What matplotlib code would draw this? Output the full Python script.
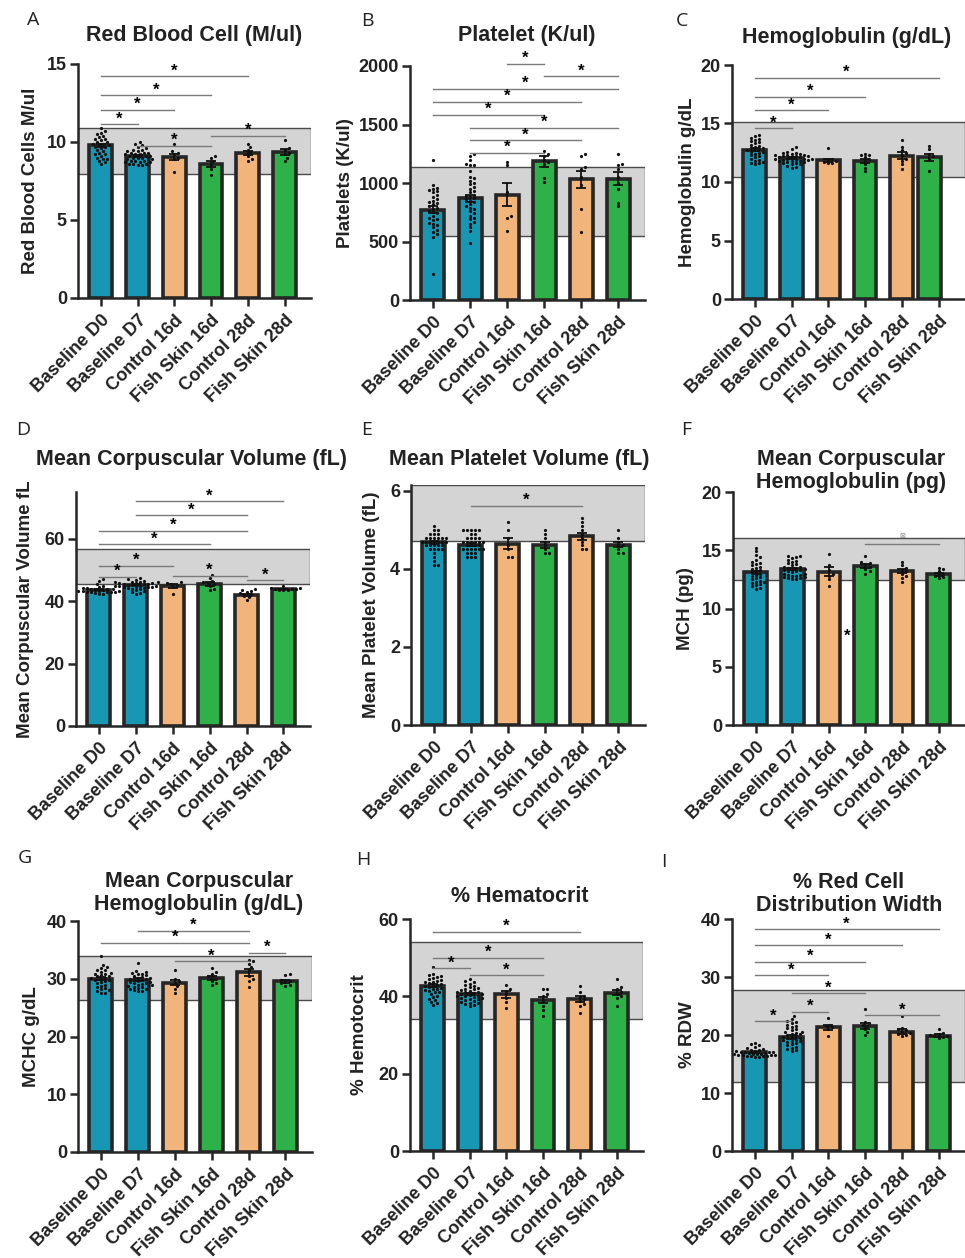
import numpy as np
import matplotlib
matplotlib.use('Agg')
import matplotlib.pyplot as plt

W, H = 965, 1258
plt.rcParams['font.family'] = ['Liberation Sans', 'DejaVu Sans']

categories = ['Baseline D0', 'Baseline D7', 'Control 16d', 'Fish Skin 16d', 'Control 28d', 'Fish Skin 28d']
bar_colors = ['#1797b3', '#1797b3', '#f1b57b', '#2fb14a', '#f1b57b', '#2fb14a']

# ---------------- A: Red blood cells ----------------
rbc_mean = [9.8, 9.1, 9.05, 8.6, 9.3, 9.35]
rbc_sem = [0.1, 0.07, 0.2, 0.18, 0.15, 0.17]
rbc_points = [
    [10.9, 10.7, 10.6, 10.5, 10.4, 10.3, 10.2, 10.2, 10.1, 10.0, 10.0, 9.9, 9.9, 9.8, 9.8,
     9.7, 9.7, 9.6, 9.5, 9.4, 9.3, 9.2, 9.2, 9.1, 9.0, 8.9, 8.9, 8.8, 8.7, 8.6],
    [10.0, 9.9, 9.8, 9.7, 9.6, 9.5, 9.5, 9.4, 9.4, 9.3, 9.3, 9.3, 9.2, 9.2, 9.2, 9.1, 9.1,
     9.1, 9.0, 9.0, 9.0, 8.9, 8.9, 8.9, 8.8, 8.8, 8.8, 8.7, 8.7, 8.6, 8.6, 8.5, 8.5, 8.6, 8.7],
    [9.9, 9.4, 9.3, 9.2, 9.0, 8.9, 8.1],
    [9.1, 9.0, 8.8, 8.6, 8.3, 7.9],
    [9.9, 9.7, 9.5, 9.3, 9.1, 8.9, 8.8],
    [10.1, 9.6, 9.5, 9.3, 9.2, 9.0, 8.8],
]
rbc_band = (7.95, 10.9)
rbc_sig = [(0, 4, 14.2, '*'), (0, 3, 13.0, '*'), (0, 2, 12.06, '*'), (0, 1, 11.14, '*'),
           (3, 5, 10.4, '*'), (1, 3, 9.77, '*')]

# ---------------- B: Platelets ----------------
plt_mean = [770, 870, 900, 1185, 1030, 1035]
plt_sem = [30, 30, 100, 45, 70, 55]
plt_points = [
    [1200, 980, 960, 950, 940, 930, 920, 900, 880, 860, 850, 840, 830, 820, 800, 790, 780,
     760, 750, 740, 720, 700, 690, 680, 660, 650, 640, 620, 600, 580, 560, 540, 220],
    [1250, 1230, 1200, 1160, 1150, 1150, 1100, 1050, 1040, 1020, 1000, 990, 970, 950, 930,
     920, 900, 890, 880, 870, 860, 850, 840, 820, 800, 790, 780, 760, 740, 720, 700, 690,
     670, 650, 620, 590, 490],
    [1180, 1150, 920, 720, 700, 590],
    [1270, 1250, 1230, 1200, 1180, 1160, 1040, 1010],
    [1250, 1230, 1140, 1120, 1050, 980, 780, 580],
    [1250, 1160, 1150, 1120, 1050, 1000, 950, 830, 800],
]
plt_band = (546, 1140)
plt_sig = [(2, 3, 2020, '*'), (3, 5, 1912, '*'), (0, 5, 1804, '*'), (0, 4, 1693, '*'),
           (0, 3, 1585, '*'), (1, 5, 1471, '*'), (1, 4, 1366, '*'), (1, 3, 1258, '*')]

# ---------------- C: Hemoglobin ----------------
hgb_mean = [12.75, 12.05, 11.85, 11.8, 12.25, 12.1]
hgb_sem = [0.12, 0.07, 0.15, 0.17, 0.28, 0.3]
hgb_points = [
    [14.0, 13.9, 13.8, 13.7, 13.6, 13.5, 13.4, 13.3, 13.2, 13.1, 13.0, 12.9, 12.9, 12.8, 12.7,
     12.7, 12.6, 12.5, 12.4, 12.3, 12.2, 12.1, 12.0, 11.9, 11.8, 11.7, 11.6, 11.6, 11.5, 12.6],
    [13.0, 12.8, 12.6, 12.5, 12.5, 12.4, 12.4, 12.3, 12.3, 12.2, 12.2, 12.2, 12.1, 12.1, 12.1,
     12.0, 12.0, 12.0, 11.9, 11.9, 11.9, 11.8, 11.8, 11.8, 11.7, 11.7, 11.6, 11.6, 11.5, 11.5,
     11.4, 11.3, 11.2, 12.0, 12.3],
    [12.9, 12.0, 11.9, 11.8, 11.7, 11.6, 11.6],
    [12.4, 12.3, 12.3, 12.1, 12.0, 11.8, 11.5, 11.2, 10.9],
    [13.6, 13.0, 12.7, 12.5, 12.3, 12.0, 11.8, 11.5, 11.1],
    [13.1, 12.8, 12.4, 12.2, 12.0, 10.9],
]
hgb_band = (10.47, 15.1)
hgb_sig = [(0, 5, 18.9, '*'), (0, 3, 17.3, '*'), (0, 2, 16.13, '*'), (0, 1, 14.6, '*')]

# ---------------- D: MCV ----------------
mcv_mean = [43.7, 45.3, 44.8, 45.5, 42.1, 43.9]
mcv_sem = [0.2, 0.2, 0.6, 0.5, 0.35, 0.15]
mcv_points = [
    [47.0, 46.5, 45.5, 45.0, 44.5, 44.3, 44.2, 44.0, 44.0, 43.9, 43.8, 43.8, 43.7, 43.7, 43.6,
     43.6, 43.5, 43.5, 43.4, 43.4, 43.3, 43.2, 43.1, 43.0, 43.0, 42.9, 42.8, 42.6, 42.4, 42.2],
    [47.3, 47.0, 46.8, 46.5, 46.3, 46.2, 46.0, 46.0, 45.9, 45.8, 45.7, 45.6, 45.5, 45.5, 45.4,
     45.3, 45.2, 45.1, 45.0, 45.0, 44.9, 44.8, 44.7, 44.6, 44.5, 44.4, 44.3, 44.2, 44.0, 43.8,
     43.5, 43.2, 42.8, 42.5, 42.2],
    [46.0, 45.8, 45.5, 45.2, 44.5, 42.3],
    [48.5, 47.5, 46.5, 46.0, 45.8, 45.5, 44.8, 44.0, 43.5],
    [43.9, 43.6, 43.4, 42.9, 42.5, 42.2, 41.8, 41.2, 40.3],
    [44.8, 44.3, 44.1, 44.0, 43.9, 43.8, 43.7, 43.6, 43.5],
]
mcv_band = (45.5, 56.6)
mcv_sig = [(1, 5, 72.1, '*'), (1, 4, 67.5, '*'), (0, 4, 62.6, '*'), (0, 3, 58.2, '*'),
           (0, 2, 51.4, '*'), (2, 4, 48.2, '*'), (0, 1, 47.9, '*'), (4, 5, 46.7, '*')]

# ---------------- E: MPV ----------------
mpv_mean = [4.68, 4.62, 4.65, 4.62, 4.84, 4.62]
mpv_sem = [0.04, 0.04, 0.15, 0.08, 0.09, 0.07]
mpv_points = [
    [5.1, 5.0, 5.0, 4.9, 4.9, 4.9, 4.8, 4.8, 4.8, 4.8, 4.8, 4.8, 4.7, 4.7, 4.7, 4.7, 4.7, 4.7,
     4.7, 4.6, 4.6, 4.6, 4.6, 4.6, 4.5, 4.5, 4.5, 4.5, 4.4, 4.3, 4.2, 4.1, 4.1],
    [5.0, 5.0, 5.0, 5.0, 5.0, 4.9, 4.9, 4.8, 4.8, 4.8, 4.8, 4.7, 4.7, 4.7, 4.7, 4.7, 4.7, 4.6,
     4.6, 4.6, 4.6, 4.5, 4.5, 4.5, 4.5, 4.5, 4.5, 4.4, 4.4, 4.4, 4.3, 4.3, 4.3],
    [5.2, 5.0, 4.8, 4.6, 4.5, 4.3, 4.3],
    [5.0, 4.9, 4.8, 4.7, 4.6, 4.5, 4.4, 4.4],
    [5.3, 5.2, 5.1, 5.0, 4.9, 4.8, 4.7, 4.6, 4.5, 4.5],
    [5.0, 4.8, 4.7, 4.6, 4.6, 4.5, 4.4, 4.4],
]
mpv_band = (4.72, 6.15)
mpv_sig = [(1, 4, 5.62, '*')]

# ---------------- F: MCH ----------------
mch_mean = [13.1, 13.4, 13.15, 13.66, 13.2, 12.95]
mch_sem = [0.15, 0.1, 0.4, 0.18, 0.18, 0.12]
mch_points = [
    [15.2, 14.9, 14.6, 14.4, 14.2, 14.0, 13.9, 13.8, 13.7, 13.6, 13.5, 13.4, 13.3, 13.2, 13.1,
     13.0, 12.9, 12.8, 12.7, 12.6, 12.5, 12.4, 12.3, 12.2, 12.1, 12.0, 11.9, 11.8, 11.7, 12.3],
    [14.5, 14.5, 14.4, 14.3, 14.2, 14.1, 14.0, 13.9, 13.8, 13.7, 13.6, 13.6, 13.5, 13.5, 13.4,
     13.4, 13.3, 13.3, 13.2, 13.2, 13.1, 13.0, 13.0, 12.9, 12.9, 12.8, 12.8, 12.7, 12.7, 12.6,
     12.6, 12.5, 12.5],
    [14.7, 13.7, 13.3, 13.0, 12.8, 12.5, 11.9],
    [14.5, 14.0, 13.9, 13.8, 13.6, 13.4, 13.2, 13.0],
    [14.0, 13.7, 13.5, 13.3, 13.2, 13.0, 12.8, 12.6, 12.3],
    [13.5, 13.4, 13.2, 13.0, 12.9, 12.8, 12.7, 12.6],
]
mch_band = (12.43, 16.06)
mch_sig = [(3, 5, 15.5, '\u22a0')]
mch_stray_star = (2.5, 7.6)

# ---------------- G: MCHC ----------------
mchc_mean = [30.0, 29.85, 29.35, 30.15, 31.1, 29.6]
mchc_sem = [0.25, 0.2, 0.5, 0.3, 0.6, 0.25]
mchc_points = [
    [34.0, 32.3, 32.0, 31.8, 31.5, 31.2, 31.0, 30.8, 30.6, 30.4, 30.2, 30.0, 29.8, 29.6, 29.4,
     29.2, 29.0, 28.8, 28.6, 28.4, 28.2, 28.0, 27.8, 27.6, 27.5, 30.5, 30.9, 29.7, 31.6, 30.1],
    [32.8, 31.3, 31.2, 31.0, 30.9, 30.8, 30.6, 30.5, 30.3, 30.2, 30.1, 30.0, 29.9, 29.8, 29.7,
     29.6, 29.5, 29.4, 29.3, 29.2, 29.1, 29.0, 28.9, 28.8, 28.7, 28.6, 28.5, 28.4, 28.3, 28.2,
     28.0, 27.9, 27.8],
    [31.5, 30.0, 29.6, 29.3, 28.8, 28.3, 27.5],
    [31.8, 31.2, 30.8, 30.5, 30.2, 30.0, 29.6, 29.3, 29.0],
    [33.2, 33.0, 32.6, 32.0, 31.5, 30.5, 30.0, 29.6, 28.5],
    [30.8, 30.7, 29.8, 29.6, 29.4, 29.2, 29.0, 28.8],
]
mchc_band = (26.3, 33.9)
mchc_sig = [(1, 4, 38.3, '*'), (0, 4, 36.26, '*'), (4, 5, 34.5, '*'), (2, 4, 33.0, '*')]

# ---------------- H: Hematocrit ----------------
hct_mean = [42.7, 40.6, 40.5, 39.05, 39.3, 40.95]
hct_sem = [0.4, 0.3, 1.0, 0.85, 0.75, 0.7]
hct_points = [
    [47.5, 45.8, 45.5, 45.2, 45.0, 44.8, 44.5, 44.2, 44.0, 43.8, 43.6, 43.4, 43.2, 43.0, 42.8,
     42.6, 42.4, 42.2, 42.0, 41.8, 41.6, 41.4, 41.2, 41.0, 40.6, 40.2, 39.8, 39.4, 39.0, 38.6,
     38.2, 37.8],
    [44.5, 44.0, 43.6, 43.3, 43.0, 42.7, 42.4, 42.2, 42.0, 41.8, 41.6, 41.4, 41.2, 41.0, 40.8,
     40.6, 40.4, 40.2, 40.0, 39.8, 39.6, 39.4, 39.2, 39.0, 38.8, 38.6, 38.4, 38.2, 38.0, 37.8,
     37.5, 40.5, 41.0, 39.5, 40.0],
    [43.0, 42.0, 41.5, 40.5, 39.5, 38.5, 37.0],
    [42.0, 42.0, 40.5, 40.0, 39.0, 37.5, 36.5, 35.0],
    [42.8, 41.0, 40.2, 39.8, 39.2, 38.8, 38.0, 37.5, 35.8],
    [44.5, 42.5, 41.8, 41.0, 40.5, 40.0, 39.5, 37.5],
]
hct_band = (34.05, 54.1)
hct_sig = [(0, 4, 56.7, '*'), (0, 3, 50.0, '*'), (0, 1, 47.3, '*'), (1, 3, 45.5, '*')]

# ---------------- I: RDW ----------------
rdw_mean = [17.0, 19.65, 21.3, 21.6, 20.6, 19.9]
rdw_sem = [0.12, 0.3, 0.5, 0.5, 0.35, 0.2]
rdw_points = [
    [18.7, 18.4, 18.2, 18.0, 17.8, 17.6, 17.5, 17.4, 17.3, 17.2, 17.1, 17.0, 17.0, 16.9, 16.9,
     16.8, 16.8, 16.7, 16.7, 16.6, 16.6, 16.5, 16.5, 16.4, 16.4, 16.3, 16.3, 16.2, 16.2, 17.1],
    [23.3, 22.8, 22.4, 22.2, 22.0, 21.8, 21.6, 21.4, 21.2, 21.0, 20.8, 20.6, 20.4, 20.2, 20.0,
     19.8, 19.6, 19.4, 19.2, 19.0, 18.8, 18.6, 18.4, 18.2, 18.0, 17.8, 17.6, 17.4, 17.2, 19.5,
     19.1, 20.5, 18.9, 19.7, 20.1],
    [23.0, 21.8, 21.5, 21.3, 21.0, 19.8],
    [24.5, 22.3, 22.0, 21.8, 21.5, 21.0, 20.5, 20.0],
    [23.2, 21.2, 21.0, 20.8, 20.6, 20.4, 20.2, 20.0, 19.9],
    [21.1, 20.4, 20.2, 20.0, 19.9, 19.8, 19.6, 19.5],
]
rdw_band = (11.95, 27.76)
rdw_sig = [(0, 5, 38.2, '*'), (0, 4, 35.5, '*'), (0, 3, 32.6, '*'), (0, 2, 30.3, '*'),
           (1, 3, 27.2, '*'), (1, 2, 24.0, '*'), (0, 1, 22.4, '*'), (3, 5, 23.4, '*')]

# ---------------- layout (pixels) ----------------
panels = [
    dict(letter='A', title='Red Blood Cell (M/ul)', ylabel='Red Blood Cells M/ul',
         mean=rbc_mean, sem=rbc_sem, pts=rbc_points, band=rbc_band, sig=rbc_sig,
         box=(78, 311, 64, 298), ylim=(0, 15), yticks=[0, 5, 10, 15],
         letter_xy=(33, 20), title_xy=(194, 35), ylab_x=30),
    dict(letter='B', title='Platelet (K/ul)', ylabel='Platelets (K/ul)',
         mean=plt_mean, sem=plt_sem, pts=plt_points, band=plt_band, sig=plt_sig,
         box=(410, 645, 66, 300), ylim=(0, 2000), yticks=[0, 500, 1000, 1500, 2000],
         letter_xy=(367, 21), title_xy=(527, 35), ylab_x=345),
    dict(letter='C', title='Hemoglobulin (g/dL)', ylabel='Hemoglobulin g/dL',
         mean=hgb_mean, sem=hgb_sem, pts=hgb_points, band=hgb_band, sig=hgb_sig,
         box=(732, 965, 65, 299), ylim=(0, 20), yticks=[0, 5, 10, 15, 20],
         letter_xy=(682, 21), title_xy=(847, 37), ylab_x=688,
         offsets=[0, 0, 0, 0, 0, -0.25]),
    dict(letter='D', title='Mean Corpuscular Volume (fL)', ylabel='Mean Corpuscular Volume fL',
         mean=mcv_mean, sem=mcv_sem, pts=mcv_points, band=mcv_band, sig=mcv_sig,
         box=(76, 310, 492, 726), ylim=(0, 75), yticks=[0, 20, 40, 60],
         letter_xy=(23, 430), title_xy=(191, 459), ylab_x=26),
    dict(letter='E', title='Mean Platelet Volume (fL)', ylabel='Mean Platelet Volume (fL)',
         mean=mpv_mean, sem=mpv_sem, pts=mpv_points, band=mpv_band, sig=mpv_sig,
         box=(411, 645, 485, 725), ylim=(0, 6.15), yticks=[0, 2, 4, 6],
         letter_xy=(367, 430), title_xy=(519, 459), ylab_x=372),
    dict(letter='F', title='Mean Corpuscular\nHemoglobulin (pg)', ylabel='MCH (pg)',
         mean=mch_mean, sem=mch_sem, pts=mch_points, band=mch_band, sig=mch_sig,
         box=(733, 965, 492, 725), ylim=(0, 20), yticks=[0, 5, 10, 15, 20],
         letter_xy=(686, 430), title_xy=(851, 471), ylab_x=685, stray=mch_stray_star),
    dict(letter='G', title='Mean Corpuscular\nHemoglobulin (g/dL)', ylabel='MCHC g/dL',
         mean=mchc_mean, sem=mchc_sem, pts=mchc_points, band=mchc_band, sig=mchc_sig,
         box=(78, 312, 921, 1152), ylim=(0, 40), yticks=[0, 10, 20, 30, 40],
         letter_xy=(25, 858), title_xy=(199, 893), ylab_x=32),
    dict(letter='H', title='% Hematocrit', ylabel='% Hemotocrit',
         mean=hct_mean, sem=hct_sem, pts=hct_points, band=hct_band, sig=hct_sig,
         box=(410, 643, 919, 1151), ylim=(0, 60), yticks=[0, 20, 40, 60],
         letter_xy=(363, 860), title_xy=(520, 896), ylab_x=360),
    dict(letter='I', title='% Red Cell\nDistribution Width', ylabel='% RDW',
         mean=rdw_mean, sem=rdw_sem, pts=rdw_points, band=rdw_band, sig=rdw_sig,
         box=(732, 965, 919, 1151), ylim=(0, 40), yticks=[0, 10, 20, 30, 40],
         letter_xy=(664, 862), title_xy=(849, 894), ylab_x=687),
]

XLIM = (-0.62, 5.72)
EDGE = '#262626'


def swarm(vals, ppu_x, ppu_y, d=3.4):
    vals = np.asarray(vals, float)
    offs = np.zeros(len(vals))
    placed = []
    for i in np.argsort(vals):
        ypx = vals[i] * ppu_y
        cands = [0.0]
        for m in range(1, 12):
            cands += [m * d * 0.6, -m * d * 0.6]
        for c in cands:
            if all((c - px) ** 2 + (ypx - py) ** 2 >= d * d for px, py in placed):
                offs[i] = c
                placed.append((c, ypx))
                break
    return offs / ppu_x


fig = plt.figure(figsize=(W / 100, H / 100), dpi=100)

for p in panels:
    x0, x1, yt, yb = p['box']
    ax = fig.add_axes([x0 / W, 1 - yb / H, (x1 - x0) / W, (yb - yt) / H])
    ax.set_xlim(*XLIM)
    ax.set_ylim(*p['ylim'])
    ppu_x = (x1 - x0) / (XLIM[1] - XLIM[0])
    ppu_y = (yb - yt) / (p['ylim'][1] - p['ylim'][0])
    offsets = p.get('offsets', [0] * 6)
    xs = np.arange(6) + np.array(offsets)

    ax.axhspan(p['band'][0], p['band'][1], facecolor='#d4d4d4', edgecolor='#4a4a4a',
               lw=1.0, zorder=0)
    ax.bar(xs, p['mean'], width=0.62, color=bar_colors, edgecolor=EDGE, linewidth=2.6, zorder=2)
    for k in range(6):
        jit = swarm(p['pts'][k], ppu_x, ppu_y)
        ax.plot(xs[k] + jit, p['pts'][k], 'o', ms=2.3, color='#111111', mew=0, zorder=4)
    ax.errorbar(xs, p['mean'], yerr=p['sem'], fmt='none', ecolor='#111111', elinewidth=1.3,
                capsize=3.5, capthick=1.3, zorder=5)

    for (i, j, y, lab) in p['sig']:
        ax.plot([i, j], [y, y], color='#7a7a7a', lw=1.0, clip_on=False, zorder=6)
        if lab == '*':
            ax.annotate('*', xy=((i + j) / 2, y), xytext=(0, 0.5), textcoords='offset points',
                        ha='center', va='baseline', fontsize=12, fontweight='bold',
                        annotation_clip=False, zorder=7)
        else:
            ax.annotate(lab, xy=((i + j) / 2, y), xytext=(0, 6), textcoords='offset points',
                        ha='center', va='center', fontsize=5, color='#888888',
                        family='DejaVu Sans', annotation_clip=False, zorder=7)
    if 'stray' in p:
        sx, sy = p['stray']
        ax.text(sx, sy, '*', ha='center', va='center', fontsize=12, fontweight='bold', zorder=7)

    for s in ['top', 'right']:
        ax.spines[s].set_visible(False)
    for s in ['left', 'bottom']:
        ax.spines[s].set_linewidth(1.8)
        ax.spines[s].set_color(EDGE)
        ax.spines[s].set_zorder(8)
    ax.set_yticks(p['yticks'])
    ax.set_yticklabels([str(t) for t in p['yticks']], fontsize=13, fontweight='bold')
    ax.set_xticks(np.arange(6))
    ax.set_xticklabels(categories, rotation=45, ha='right', rotation_mode='anchor',
                       fontsize=13, fontweight='bold')
    ax.tick_params(axis='both', direction='out', length=6, width=1.8, color=EDGE,
                   labelcolor='#222222')
    ax.tick_params(axis='x', pad=4)
    ax.tick_params(axis='y', pad=2)
    ax.set_ylabel(p['ylabel'], fontsize=13.5, fontweight='bold', color='#222222', va='center')
    ax.yaxis.set_label_coords((p['ylab_x'] - x0) / (x1 - x0), 0.5)
    ax.patch.set_alpha(0)

    tx, ty = p['title_xy']
    fig.text(tx / W, 1 - ty / H, p['title'], ha='center', va='center', fontsize=15.5,
             fontweight='bold', color='#222222', linespacing=1.1)
    lx, ly = p['letter_xy']
    fig.text(lx / W, 1 - ly / H, p['letter'], ha='center', va='center', fontsize=14,
             family='Open Sans', color='#222222')

fig.savefig('out.png', dpi=100)
